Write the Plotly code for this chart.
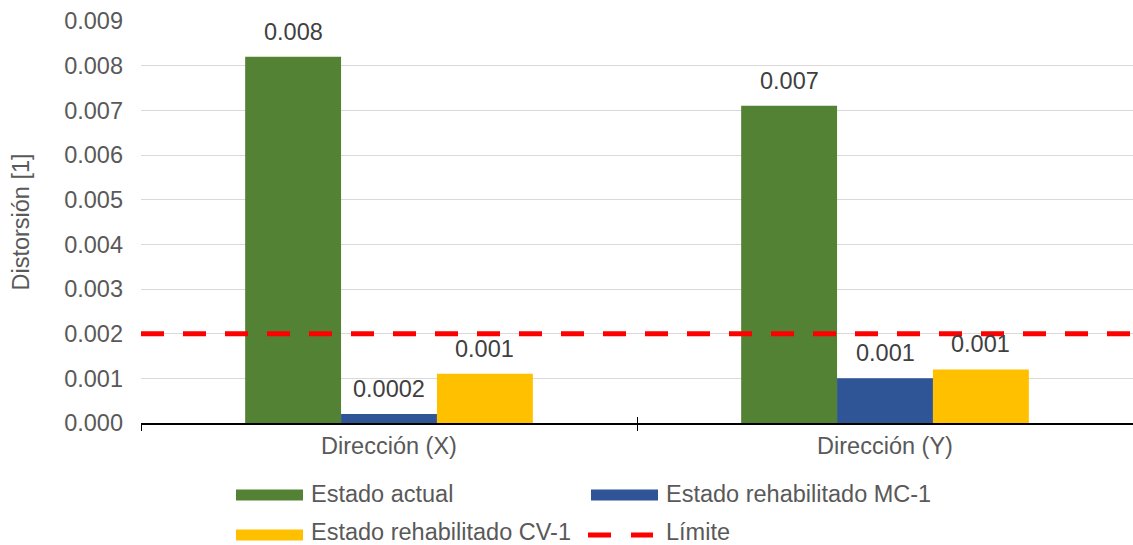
import plotly.graph_objects as go

# Inter-storey drift per direction and state
categories = ["Dirección (X)", "Dirección (Y)"]
series_names = ["Estado actual", "Estado rehabilitado MC-1", "Estado rehabilitado CV-1"]
estado_actual = [0.0082, 0.0071]
rehab_mc1 = [0.0002, 0.0010]
rehab_cv1 = [0.0011, 0.0012]
limite = 0.002
limite_name = "Límite"
limit_span = [0, 1]
y_ticks = [0.000, 0.001, 0.002, 0.003, 0.004, 0.005, 0.006, 0.007, 0.008, 0.009]

colors = ["#548235", "#2f5597", "#ffc000"]
limit_color = "#ff0000"
values = [estado_actual, rehab_mc1, rehab_cv1]

FONT = "Liberation Sans"
FS = 23.5
TXT = "#595959"
BAR_GAP = 0.42

W, H = 1133, 545
ML, MR, MT, MB = 141, 0, 21, 122
PW, PH = W - ML - MR, H - MT - MB


def px_x(p):
    return (p - ML) / PW


def px_y(p):
    return (H - MB - p) / PH


def label(v):
    # one significant figure, as printed on the bars
    return f"{float(f'{v:.1g}'):g}" if v >= 0.001 else f"{v:.1g}"


fig = go.Figure()
for name, vals, col in zip(series_names, values, colors):
    fig.add_trace(go.Bar(
        x=categories, y=vals, name=name,
        marker=dict(color=col, line=dict(width=0)),
    ))

fig.add_trace(go.Scatter(
    x=limit_span, y=[limite, limite], xaxis="x2", mode="lines",
    name=limite_name, line=dict(color=limit_color, width=5, dash="23px,19px"),
))

# value labels above each bar
bar_w = (1 - BAR_GAP) / len(values)
for si, vals in enumerate(values):
    off = (si - (len(values) - 1) / 2) * bar_w
    for ci, v in enumerate(vals):
        fig.add_annotation(
            x=ci + off, y=v, xref="x", yref="y",
            text=label(v), showarrow=False, yanchor="middle", yshift=25,
            font=dict(family=FONT, size=FS, color="#404040"),
        )

# legend drawn as swatches + text, two columns
legend_items = [
    (series_names[0], colors[0], "bar", 236, 495, 494),
    (series_names[1], colors[1], "bar", 591, 495, 494),
    (series_names[2], colors[2], "bar", 236, 535, 531.5),
    (limite_name, limit_color, "dash", 591, 535, 531.5),
]
for name, col, kind, lx, ly, ty in legend_items:
    if kind == "bar":
        fig.add_shape(
            type="rect", xref="paper", yref="paper",
            x0=px_x(lx), x1=px_x(lx + 67), y0=px_y(ly + 5.5), y1=px_y(ly - 5.5),
            fillcolor=col, line=dict(width=0),
        )
    else:
        fig.add_shape(
            type="line", xref="paper", yref="paper",
            x0=px_x(lx - 3), x1=px_x(lx + 62), y0=px_y(ly), y1=px_y(ly),
            line=dict(color=col, width=5, dash="23px,20px"),
        )
    fig.add_annotation(
        x=px_x(lx + 73), y=px_y(ty), xref="paper", yref="paper",
        text=name, showarrow=False, xanchor="left", yanchor="middle",
        font=dict(family=FONT, size=FS, color=TXT),
    )

fig.update_layout(
    width=W, height=H,
    margin=dict(l=ML, r=MR, t=MT, b=MB, autoexpand=False),
    plot_bgcolor="white", paper_bgcolor="white",
    font=dict(family=FONT, size=FS, color=TXT),
    barmode="group", bargap=BAR_GAP, bargroupgap=0,
    showlegend=False,
    xaxis=dict(
        type="category", showline=True, linecolor="black", linewidth=1.5,
        ticks="outside", tickson="boundaries", ticklen=6, tickcolor="black",
        ticklabelstandoff=1,
        tickfont=dict(family=FONT, size=FS, color=TXT),
        showgrid=False, range=[-0.5, 1.5],
    ),
    xaxis2=dict(
        overlaying="x", anchor="y", side="bottom", range=limit_span,
        tickvals=[0, 0.5, 1], ticks="inside", ticklen=6, tickcolor="black",
        showticklabels=False, showgrid=False, zeroline=False, showline=False,
    ),
    yaxis=dict(
        range=[0, 0.009], tickvals=y_ticks, tickformat=".3f",
        gridcolor="#d9d9d9", gridwidth=1, zeroline=False, showline=False,
        ticks="", ticklabelstandoff=17,
        tickfont=dict(family=FONT, size=FS, color=TXT),
        title=dict(text="Distorsión [1]", font=dict(family=FONT, size=FS, color=TXT),
                   standoff=27),
    ),
)

fig.write_html("out.html")
